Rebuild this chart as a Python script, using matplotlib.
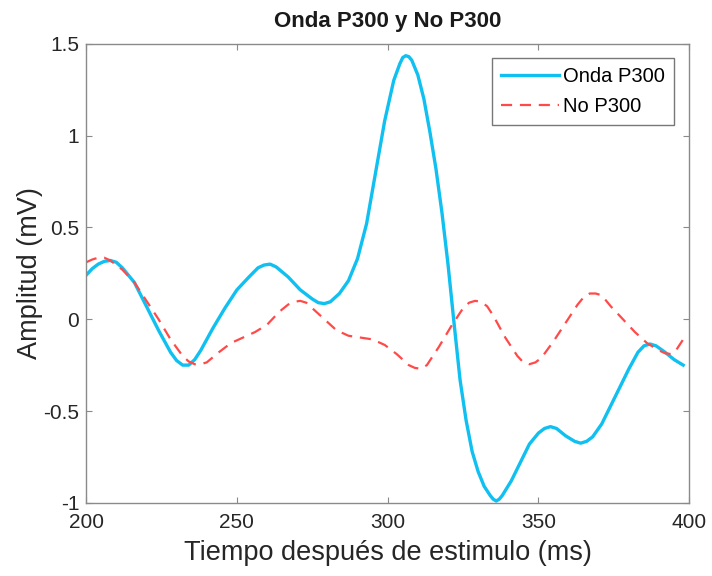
import matplotlib
matplotlib.use("Agg")
import matplotlib.pyplot as plt

plt.rcParams['font.family'] = ['Liberation Sans', 'DejaVu Sans']

# Onda P300
t_p300 = [200, 202, 204, 206, 208, 210, 212, 216, 220, 224, 228, 230, 232, 234,
          236, 238, 242, 246, 250, 254, 257, 259, 261, 263, 267, 271, 275, 277,
          279, 281, 284, 287, 290, 293, 296, 299, 302, 304, 305, 306, 307, 308,
          310, 312, 314, 316, 318, 320, 322, 324, 326, 328, 330, 332, 334, 335,
          336, 337, 338, 341, 344, 347, 350, 352, 354, 356, 359, 362, 364, 366,
          368, 371, 374, 377, 380, 383, 385, 387, 389, 392, 395, 398]
amp_p300 = [0.24, 0.275, 0.30, 0.315, 0.32, 0.31, 0.28, 0.20, 0.07, -0.06, -0.18,
            -0.225, -0.25, -0.25, -0.22, -0.17, -0.05, 0.06, 0.16, 0.23, 0.28,
            0.295, 0.30, 0.285, 0.23, 0.16, 0.11, 0.09, 0.085, 0.095, 0.14, 0.21,
            0.33, 0.52, 0.80, 1.08, 1.30, 1.39, 1.425, 1.435, 1.43, 1.41, 1.33,
            1.20, 1.02, 0.82, 0.58, 0.30, -0.02, -0.33, -0.55, -0.72, -0.83,
            -0.91, -0.96, -0.98, -0.99, -0.98, -0.96, -0.88, -0.78, -0.68, -0.62,
            -0.595, -0.585, -0.595, -0.635, -0.665, -0.675, -0.665, -0.64, -0.57,
            -0.47, -0.37, -0.27, -0.18, -0.145, -0.135, -0.145, -0.18, -0.22, -0.25]

# No P300
t_no = [200, 202, 204, 206, 208, 212, 216, 220, 224, 228, 232, 234, 236, 238,
        240, 244, 248, 252, 256, 260, 264, 267, 269, 271, 273, 275, 279, 283,
        287, 291, 295, 299, 303, 307, 309, 311, 313, 317, 321, 325, 327, 329,
        331, 333, 335, 339, 343, 345, 347, 349, 351, 355, 359, 363, 365, 367,
        369, 371, 374, 378, 382, 386, 390, 392, 394, 396, 398]
amp_no = [0.31, 0.325, 0.335, 0.335, 0.32, 0.27, 0.20, 0.10, 0.00, -0.11, -0.20,
          -0.23, -0.245, -0.245, -0.235, -0.18, -0.13, -0.10, -0.07, -0.03, 0.04,
          0.08, 0.095, 0.10, 0.09, 0.06, 0.00, -0.06, -0.09, -0.10, -0.11, -0.14,
          -0.19, -0.25, -0.265, -0.27, -0.25, -0.15, -0.04, 0.06, 0.09, 0.10,
          0.095, 0.07, 0.02, -0.10, -0.20, -0.235, -0.245, -0.235, -0.21, -0.12,
          -0.02, 0.08, 0.12, 0.14, 0.14, 0.13, 0.07, 0.00, -0.07, -0.13, -0.17,
          -0.185, -0.19, -0.16, -0.11]

fig = plt.figure(figsize=(7.12, 5.76), dpi=100)
ax = fig.add_axes([0.121, 0.127, 0.847, 0.797])

ax.plot(t_p300, amp_p300, color='#10C0F0', linewidth=2.4, label='Onda P300',
        solid_joinstyle='round')
ax.plot(t_no, amp_no, color='#FF4A4A', linewidth=1.6, linestyle=(0, (5, 3.5)),
        label='No P300')

ax.set_xlim(200, 400)
ax.set_ylim(-1, 1.5)
ax.set_xticks([200, 250, 300, 350, 400])
ax.set_yticks([-1, -0.5, 0, 0.5, 1, 1.5])
ax.set_yticklabels(['-1', '-0.5', '0', '0.5', '1', '1.5'])

for s in ax.spines.values():
    s.set_color('#8a8a8a')
    s.set_linewidth(1.0)
ax.tick_params(direction='in', top=True, right=True, length=4, width=0.8,
               color='#8a8a8a', labelsize=15, labelcolor='#262626')
ax.tick_params(axis='x', pad=7)
ax.tick_params(axis='y', pad=5)

ax.set_title('Onda P300 y No P300', fontsize=16, fontweight='bold',
             color='#1a1a1a', pad=12)
ax.set_xlabel('Tiempo después de estimulo (ms)', fontsize=19.5, color='#262626',
              labelpad=6)
ax.set_ylabel('Amplitud (mV)', fontsize=19.5, color='#262626', labelpad=0)

leg = ax.legend(loc='upper right', fontsize=14.5, frameon=True, fancybox=False,
                edgecolor='#555555', handlelength=2.9, handletextpad=0.2,
                borderpad=0.45, labelspacing=0.55, borderaxespad=0,
                bbox_to_anchor=(0.975, 0.97))
leg.get_frame().set_linewidth(1.0)

fig.savefig('out.png', dpi=100)
